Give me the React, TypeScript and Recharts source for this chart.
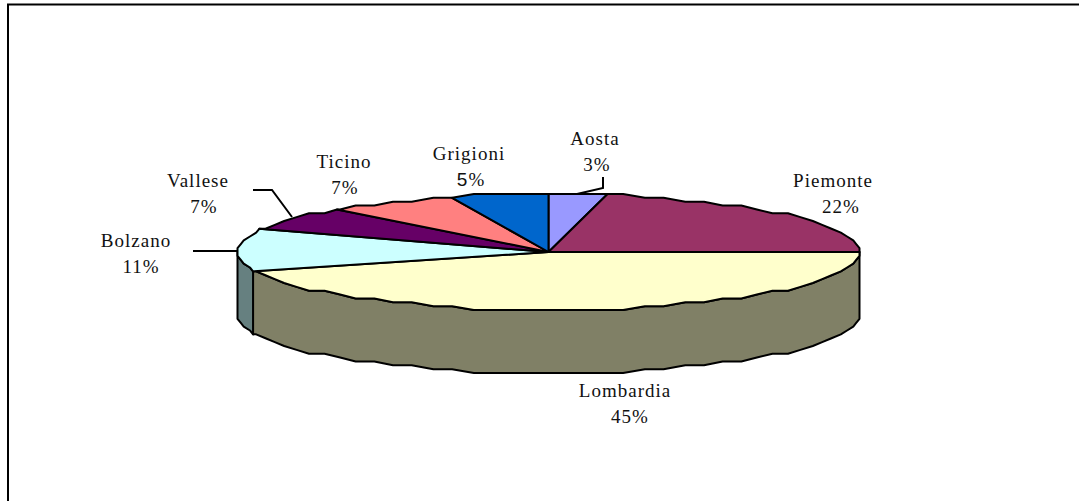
import { PieChart, Pie, Cell } from 'recharts';

const regions = ['Aosta', 'Piemonte', 'Lombardia', 'Bolzano', 'Vallese', 'Ticino', 'Grigioni'];
const shares = [3, 22, 45, 11, 7, 7, 5];
const topColors = ['#9999FF', '#993366', '#FFFFCC', '#CCFFFF', '#660066', '#FF8080', '#0066CC'];
const sideColors = ['#666699', '#662244', '#808066', '#668080', '#330033', '#804040', '#003366'];

const data = regions.map((name, i) => ({ name, value: shares[i], side: sideColors[i] }));

// where each label sits (name center x, baseline of first line, percent center x)
const labelPos: Record<string, [number, number, number]> = {
  Aosta: [595, 145, 597],
  Piemonte: [833, 187, 841],
  Lombardia: [625, 397, 630],
  Bolzano: [136, 247, 141],
  Vallese: [198, 187, 204],
  Ticino: [344, 168, 345],
  Grigioni: [469, 160, 471],
};

const leaders = [
  'M603 177 L603 188 L577 194',
  'M253 190 L272 190 L292 217',
  'M193 251 L238 251',
];

const TILT = 58 / 311; // ellipse squash
const DEPTH = 63;
const STEP = 4;
const GRID_X = 3.11;
const GRID_Y = 3.87;

// the original has a coarse, wobbly outline: snap ellipse points to a rough grid
const edgePoint = (cx: number, cy: number, r: number, deg: number) => {
  const rad = (deg * Math.PI) / 180;
  const x = r * Math.cos(rad);
  const y = r * TILT * Math.sin(rad);
  return [cx + Math.round(x / GRID_X) * GRID_X, cy - Math.round(y / GRID_Y) * GRID_Y] as const;
};

// angles go clockwise, from a down to b (a > b)
const arcPoints = (cx: number, cy: number, r: number, a: number, b: number) => {
  const pts = [edgePoint(cx, cy, r, a)];
  for (let k = Math.floor((a - 0.001) / STEP); k * STEP > b; k--) {
    pts.push(edgePoint(cx, cy, r, k * STEP));
  }
  pts.push(edgePoint(cx, cy, r, b));
  return pts;
};

const toPath = (pts: readonly (readonly [number, number])[]) =>
  pts.map((p, i) => `${i ? 'L' : 'M'}${p[0]} ${p[1]}`).join(' ');

const PieSlice = (props: any) => {
  const { cx, cy, outerRadius, startAngle, endAngle, fill, side } = props;
  const top = arcPoints(cx, cy, outerRadius, startAngle, endAngle);
  const wallFrom = Math.min(startAngle, 0);
  const wallTo = Math.max(endAngle, -180);
  let wall = null;
  if (wallFrom > wallTo) {
    const rim = arcPoints(cx, cy, outerRadius, wallFrom, wallTo);
    const lower = rim.map((p) => [p[0], p[1] + DEPTH] as const).reverse();
    wall = <path d={`${toPath([...rim, ...lower])} Z`} fill={side} stroke="#000" strokeWidth={2} strokeLinejoin="round" />;
  }
  return (
    <g>
      {wall}
      <path d={`M${cx} ${cy} ${toPath(top).replace('M', 'L')} Z`} fill={fill} stroke="#000" strokeWidth={2} strokeLinejoin="round" />
    </g>
  );
};

const SliceLabel = (props: any) => {
  const { name, value } = props;
  const [x, y, pctX] = labelPos[name];
  return (
    <text x={x} y={y} textAnchor="middle" fontFamily="'Liberation Serif', serif" fontSize={19} letterSpacing={1} fill="#111">
      <tspan x={x}>{name}</tspan>
      <tspan x={pctX} dy={25.5} fontFamily={name === 'Grigioni' ? "'Liberation Sans', sans-serif" : undefined}>{String(value)}</tspan>
      <tspan>%</tspan>
    </text>
  );
};

export default function App() {
  return (
    <div style={{ position: 'absolute', left: 0, top: 0, width: 1079, height: 501, background: '#fff' }}>
      <PieChart width={1079} height={501} margin={{ top: 0, right: 0, bottom: 0, left: 0 }}>
        <path d="M8 501 L8 4.5 L1079 4.5" fill="none" stroke="#000" strokeWidth={2} />
        <Pie
          data={data}
          dataKey="value"
          nameKey="name"
          cx={548.5}
          cy={252}
          outerRadius={311}
          startAngle={90}
          endAngle={-270}
          shape={PieSlice}
          label={SliceLabel}
          labelLine={false}
          isAnimationActive={false}
        >
          {data.map((d, i) => (
            <Cell key={d.name} fill={topColors[i]} />
          ))}
        </Pie>
        {leaders.map((d) => (
          <path key={d} d={d} fill="none" stroke="#000" strokeWidth={2} />
        ))}
      </PieChart>
    </div>
  );
}
